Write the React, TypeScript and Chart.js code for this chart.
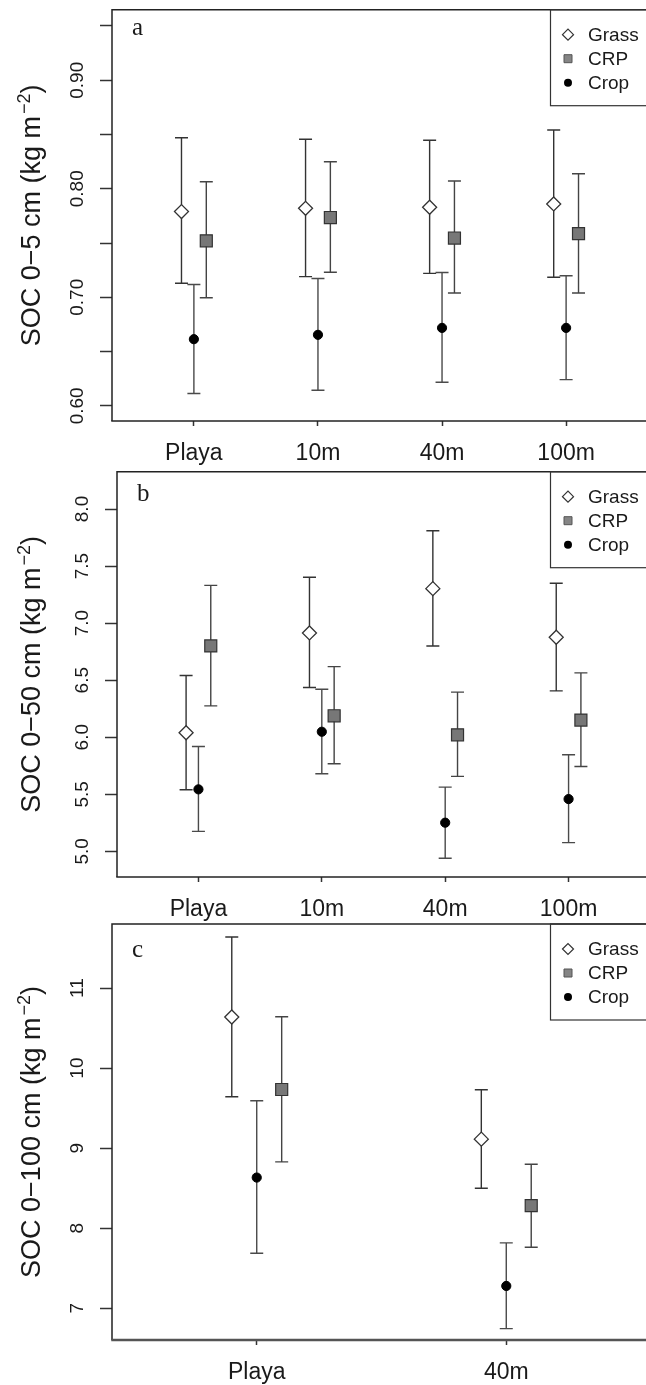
import React, { useEffect, useRef } from 'react';
import { Chart, registerables } from 'chart.js';

Chart.register(...registerables);

// ---------- data ----------
const categoriesAB = ['Playa', '10m', '40m', '100m'];
const categoriesC = ['Playa', '40m'];
const seriesNames = ['Grass', 'CRP', 'Crop'];

// Panel a: SOC 0-5 cm
const grassA = [0.779, 0.782, 0.783, 0.786];
const grassALow = [0.713, 0.719, 0.722, 0.7185];
const grassAHigh = [0.847, 0.8456, 0.8447, 0.8542];
const crpA = [0.752, 0.7735, 0.7546, 0.7586];
const crpALow = [0.6996, 0.7231, 0.7039, 0.7039];
const crpAHigh = [0.8065, 0.8249, 0.8072, 0.8139];
const cropA = [0.6614, 0.6654, 0.6718, 0.6718];
const cropALow = [0.6113, 0.6144, 0.6217, 0.6241];
const cropAHigh = [0.7118, 0.7173, 0.7228, 0.7198];

// Panel b: SOC 0-50 cm
const grassB = [6.039, 6.914, 7.302, 6.876];
const grassBLow = [5.54, 6.436, 6.8, 6.406];
const grassBHigh = [6.541, 7.402, 7.81, 7.349];
const crpB = [6.8, 6.188, 6.021, 6.15];
const crpBLow = [6.275, 5.767, 5.657, 5.744];
const crpBHigh = [7.331, 6.619, 6.395, 6.564];
const cropB = [5.543, 6.048, 5.251, 5.458];
const cropBLow = [5.175, 5.68, 4.939, 5.076];
const cropBHigh = [5.919, 6.421, 5.563, 5.846];

// Panel c: SOC 0-100 cm
const grassC = [10.638, 9.113];
const grassCLow = [9.642, 8.5];
const grassCHigh = [11.638, 9.729];
const crpC = [9.733, 8.283];
const crpCLow = [8.829, 7.763];
const crpCHigh = [10.642, 8.8];
const cropC = [8.633, 7.279];
const cropCLow = [7.688, 6.746];
const cropCHigh = [9.592, 7.817];

// y ticks
const yTickMarksA = [0.6, 0.65, 0.7, 0.75, 0.8, 0.85, 0.9, 0.95];
const yTickLabelValsA = [0.6, 0.7, 0.8, 0.9];
const yTickLabelsA = ['0.60', '0.70', '0.80', '0.90'];
const yTickMarksB = [5.0, 5.5, 6.0, 6.5, 7.0, 7.5, 8.0];
const yTickLabelsB = ['5.0', '5.5', '6.0', '6.5', '7.0', '7.5', '8.0'];
const yTickMarksC = [7, 8, 9, 10, 11];
const yTickLabelsC = ['7', '8', '9', '10', '11'];

// series group offsets (in category units)
const seriesOffsets = [-0.1, 0.1, 0];

// ---------- styling ----------
const FONT = '"Liberation Sans", Arial, Helvetica, sans-serif';
const SERIF = '"Liberation Serif", "Times New Roman", serif';
const INK = '#1a1a1a';
const CANVAS_W = 700;

type PanelCfg = {
  canvasTop: number;
  canvasHeight: number;
  areaTop: number;
  areaBottom: number;
  areaLeft: number;
  areaRight: number;
  xMin: number;
  xMax: number;
  yMin: number;
  yMax: number;
  cats: string[];
  series: { v: number[]; lo: number[]; hi: number[] }[];
  yTickMarks: number[];
  yLabelVals: number[];
  yLabels: string[];
  titleMain: string;
  letter: string;
  letterDy: number;
  bottomWidth: number;
  bottomColor: string;
};

const panels: PanelCfg[] = [
  {
    canvasTop: 0, canvasHeight: 472, areaTop: 8, areaBottom: 421, areaLeft: 112, areaRight: 648,
    xMin: 0.34, xMax: 4.66, yMin: 0.586, yMax: 0.965, cats: categoriesAB,
    series: [
      { v: grassA, lo: grassALow, hi: grassAHigh },
      { v: crpA, lo: crpALow, hi: crpAHigh },
      { v: cropA, lo: cropALow, hi: cropAHigh },
    ],
    yTickMarks: yTickMarksA, yLabelVals: yTickLabelValsA, yLabels: yTickLabelsA,
    titleMain: 'SOC 0\u22125 cm (kg m', letter: 'a', letterDy: 25, bottomWidth: 1.5, bottomColor: '#222',
  },
  {
    canvasTop: 462, canvasHeight: 468, areaTop: 9, areaBottom: 415, areaLeft: 117, areaRight: 650,
    xMin: 0.34, xMax: 4.66, yMin: 4.775, yMax: 8.327, cats: categoriesAB,
    series: [
      { v: grassB, lo: grassBLow, hi: grassBHigh },
      { v: crpB, lo: crpBLow, hi: crpBHigh },
      { v: cropB, lo: cropBLow, hi: cropBHigh },
    ],
    yTickMarks: yTickMarksB, yLabelVals: yTickMarksB, yLabels: yTickLabelsB,
    titleMain: 'SOC 0\u221250 cm (kg m', letter: 'b', letterDy: 29, bottomWidth: 1.5, bottomColor: '#222',
  },
  {
    canvasTop: 914, canvasHeight: 471, areaTop: 10, areaBottom: 426, areaLeft: 112, areaRight: 651,
    xMin: 0.42, xMax: 2.58, yMin: 6.604, yMax: 11.8, cats: categoriesC,
    series: [
      { v: grassC, lo: grassCLow, hi: grassCHigh },
      { v: crpC, lo: crpCLow, hi: crpCHigh },
      { v: cropC, lo: cropCLow, hi: cropCHigh },
    ],
    yTickMarks: yTickMarksC, yLabelVals: yTickMarksC, yLabels: yTickLabelsC,
    titleMain: 'SOC 0\u2212100 cm (kg m', letter: 'c', letterDy: 33, bottomWidth: 2.5, bottomColor: '#555',
  },
];

const pointStyles = [
  { style: 'rectRot', radius: 7, fill: '#ffffff', stroke: '#333333', bw: 1.3, bar: '#333333' },
  { style: 'rect', radius: 8.5, fill: '#777777', stroke: '#333333', bw: 1.2, bar: '#444444' },
  { style: 'circle', radius: 4.6, fill: '#000000', stroke: '#000000', bw: 1, bar: '#4a4a4a' },
];

function drawMarker(ctx: CanvasRenderingContext2D, kind: number, x: number, y: number) {
  ctx.save();
  ctx.beginPath();
  if (kind === 0) {
    const r = 5.5;
    ctx.moveTo(x - r, y); ctx.lineTo(x, y - r); ctx.lineTo(x + r, y); ctx.lineTo(x, y + r); ctx.closePath();
    ctx.fillStyle = '#fff'; ctx.fill();
    ctx.strokeStyle = '#333'; ctx.lineWidth = 1.2; ctx.stroke();
  } else if (kind === 1) {
    ctx.rect(x - 4, y - 4, 8, 8);
    ctx.fillStyle = '#858585'; ctx.fill();
    ctx.strokeStyle = '#555'; ctx.lineWidth = 1; ctx.stroke();
  } else {
    ctx.arc(x, y, 4, 0, Math.PI * 2);
    ctx.fillStyle = '#000'; ctx.fill();
  }
  ctx.restore();
}

function makeDecor(cfg: PanelCfg) {
  return {
    id: 'decor',
    beforeDatasetsDraw(chart: any) {
      const ctx: CanvasRenderingContext2D = chart.ctx;
      const ys = chart.scales.y;
      chart.data.datasets.forEach((ds: any, di: number) => {
        const meta = chart.getDatasetMeta(di);
        ctx.save();
        ctx.strokeStyle = pointStyles[di].bar;
        ctx.lineWidth = 1.4;
        ds.data.forEach((d: any, j: number) => {
          const px = meta.data[j].x;
          const yLo = ys.getPixelForValue(d.lo);
          const yHi = ys.getPixelForValue(d.hi);
          ctx.beginPath();
          ctx.moveTo(px, yLo); ctx.lineTo(px, yHi);
          ctx.moveTo(px - 6.5, yLo); ctx.lineTo(px + 6.5, yLo);
          ctx.moveTo(px - 6.5, yHi); ctx.lineTo(px + 6.5, yHi);
          ctx.stroke();
        });
        ctx.restore();
      });
    },
    afterDraw(chart: any) {
      const ctx: CanvasRenderingContext2D = chart.ctx;
      const ca = chart.chartArea;
      const ys = chart.scales.y;
      const xs = chart.scales.x;
      ctx.save();
      // box
      ctx.strokeStyle = '#222';
      ctx.lineWidth = 1.5;
      ctx.beginPath();
      ctx.moveTo(ca.left, ca.bottom); ctx.lineTo(ca.left, ca.top); ctx.lineTo(ca.right, ca.top); ctx.lineTo(ca.right, ca.bottom);
      ctx.stroke();
      ctx.strokeStyle = cfg.bottomColor;
      ctx.lineWidth = cfg.bottomWidth;
      ctx.beginPath();
      ctx.moveTo(ca.left - 0.75, ca.bottom); ctx.lineTo(ca.right, ca.bottom);
      ctx.stroke();

      // y tick labels
      ctx.fillStyle = INK;
      ctx.font = `19px ${FONT}`;
      cfg.yLabelVals.forEach((v, i) => {
        const py = ys.getPixelForValue(v);
        ctx.save();
        ctx.translate(ca.left - 34, py);
        ctx.rotate(-Math.PI / 2);
        ctx.textAlign = 'center';
        ctx.textBaseline = 'middle';
        ctx.fillText(cfg.yLabels[i], 0, 0);
        ctx.restore();
      });

      // x tick labels
      ctx.font = `23px ${FONT}`;
      ctx.textAlign = 'center';
      ctx.textBaseline = 'alphabetic';
      cfg.cats.forEach((c, i) => {
        ctx.fillText(c, xs.getPixelForValue(i + 1), ca.bottom + 39);
      });

      // y title with superscript
      ctx.save();
      ctx.translate(40, (ca.top + ca.bottom) / 2);
      ctx.rotate(-Math.PI / 2);
      ctx.textAlign = 'left';
      ctx.textBaseline = 'alphabetic';
      const fMain = `27px ${FONT}`;
      const fSup = `18px ${FONT}`;
      ctx.font = fMain;
      const w1 = ctx.measureText(cfg.titleMain).width;
      const w3 = ctx.measureText(')').width;
      ctx.font = fSup;
      const sup = '\u22122';
      const w2 = ctx.measureText(sup).width;
      const gap = 2;
      const total = w1 + gap + w2 + w3;
      const x0 = -total / 2;
      ctx.font = fMain;
      ctx.fillText(cfg.titleMain, x0, 0);
      ctx.font = fSup;
      ctx.fillText(sup, x0 + w1 + gap, -10);
      ctx.font = fMain;
      ctx.fillText(')', x0 + w1 + gap + w2, 0);
      ctx.restore();

      // panel letter
      ctx.font = `25px ${SERIF}`;
      ctx.textAlign = 'left';
      ctx.textBaseline = 'alphabetic';
      ctx.fillText(cfg.letter, ca.left + 20, ca.top + cfg.letterDy);

      // legend
      ctx.strokeStyle = '#333';
      ctx.lineWidth = 1.2;
      ctx.strokeRect(550.5, ca.top, 200, 96);
      ctx.font = `19px ${FONT}`;
      ctx.textBaseline = 'middle';
      seriesNames.forEach((name, i) => {
        const ly = ca.top + 25 + i * 24;
        drawMarker(ctx, i, 568, ly);
        ctx.fillStyle = INK;
        ctx.fillText(name, 588, ly + 1);
      });
      ctx.restore();
    },
  };
}

function Panel({ cfg }: { cfg: PanelCfg }) {
  const ref = useRef<HTMLCanvasElement | null>(null);
  useEffect(() => {
    if (!ref.current) return;
    const datasets = cfg.series.map((s, si) => ({
      label: seriesNames[si],
      data: cfg.cats.map((_, i) => ({ x: i + 1 + seriesOffsets[si], y: s.v[i], lo: s.lo[i], hi: s.hi[i] })),
      pointStyle: pointStyles[si].style,
      pointRadius: pointStyles[si].radius,
      pointHoverRadius: pointStyles[si].radius,
      pointBackgroundColor: pointStyles[si].fill,
      pointBorderColor: pointStyles[si].stroke,
      pointBorderWidth: pointStyles[si].bw,
      showLine: false,
    }));
    const chart = new Chart(ref.current, {
      type: 'scatter',
      data: { datasets } as any,
      options: {
        responsive: false,
        animation: false,
        events: [],
        layout: { padding: { left: 0, top: cfg.areaTop, right: CANVAS_W - cfg.areaRight, bottom: 0 } },
        plugins: { legend: { display: false }, tooltip: { enabled: false } },
        scales: {
          x: {
            type: 'linear',
            min: cfg.xMin,
            max: cfg.xMax,
            afterBuildTicks: (s: any) => { s.ticks = cfg.cats.map((_, i) => ({ value: i + 1 })); },
            ticks: { display: false },
            grid: { display: true, drawOnChartArea: false, drawTicks: true, tickLength: 5, tickColor: '#333', tickWidth: 1.5 },
            border: { display: false },
            afterFit: (s: any) => { s.height = cfg.canvasHeight - cfg.areaBottom; },
          },
          y: {
            type: 'linear',
            min: cfg.yMin,
            max: cfg.yMax,
            afterBuildTicks: (s: any) => { s.ticks = cfg.yTickMarks.map((v) => ({ value: v })); },
            ticks: { display: false },
            grid: { display: true, drawOnChartArea: false, drawTicks: true, tickLength: 12, tickColor: '#333', tickWidth: 1.5 },
            border: { display: false },
            afterFit: (s: any) => { s.width = cfg.areaLeft; },
          },
        },
      } as any,
      plugins: [makeDecor(cfg)],
    });
    return () => chart.destroy();
  }, [cfg]);
  return (
    <canvas
      ref={ref}
      width={CANVAS_W}
      height={cfg.canvasHeight}
      style={{ position: 'absolute', left: 0, top: cfg.canvasTop, width: CANVAS_W, height: cfg.canvasHeight, display: 'block' }}
    />
  );
}

export default function App() {
  return (
    <div style={{ position: 'absolute', left: 0, top: 0, width: 646, height: 1385, overflow: 'hidden', background: '#fff' }}>
      {panels.map((p, i) => (
        <Panel key={i} cfg={p} />
      ))}
    </div>
  );
}
